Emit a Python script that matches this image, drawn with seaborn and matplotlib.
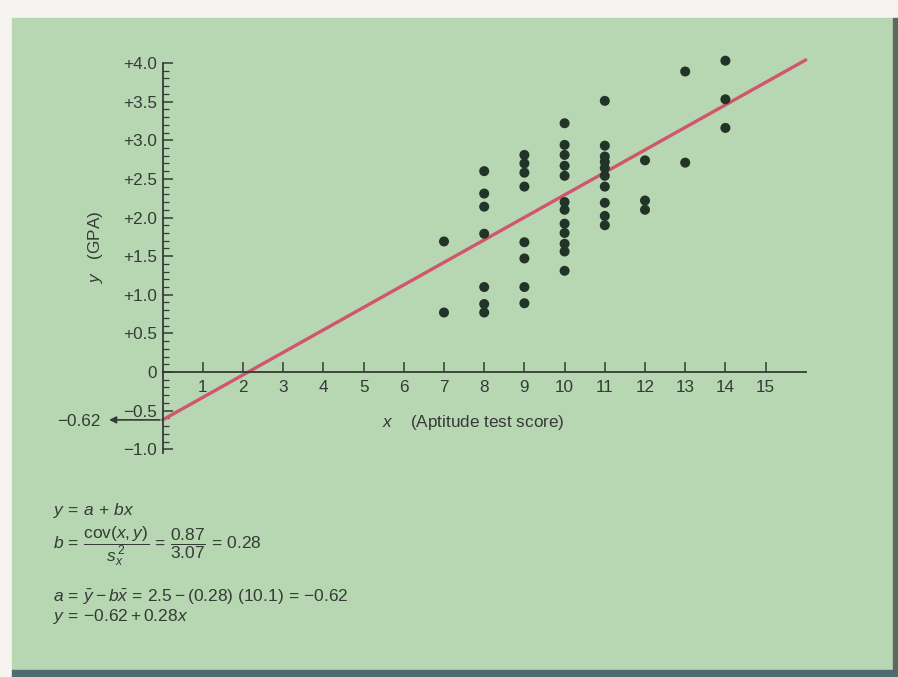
import numpy as np
import matplotlib
matplotlib.use("Agg")
import matplotlib.pyplot as plt
from matplotlib.patches import Rectangle
import seaborn as sns

# ---------------- data ----------------
scores = [7, 7,
          8, 8, 8, 8, 8, 8, 8,
          9, 9, 9, 9, 9, 9, 9, 9,
          10, 10, 10, 10, 10, 10, 10, 10, 10, 10, 10, 10,
          11, 11, 11, 11, 11, 11, 11, 11, 11, 11,
          12, 12, 12,
          13, 13,
          14, 14, 14]
gpa = [1.69, 0.77,
       2.60, 2.31, 2.14, 1.79, 1.10, 0.88, 0.77,
       2.81, 2.70, 2.58, 2.40, 1.68, 1.47, 1.10, 0.89,
       3.22, 2.94, 2.81, 2.67, 2.54, 2.20, 2.10, 1.92, 1.80, 1.66, 1.56, 1.31,
       3.51, 2.93, 2.79, 2.72, 2.64, 2.54, 2.40, 2.19, 2.02, 1.90,
       2.74, 2.22, 2.10,
       3.89, 2.71,
       4.03, 3.53, 3.16]
line_x = [0.0, 16.0]
line_y = [-0.62, 4.04]
y_ticks = [-1.0, -0.5, 0.0, 0.5, 1.0, 1.5, 2.0, 2.5, 3.0, 3.5, 4.0]
y_tick_labels = ["\u22121.0", "\u22120.5", "0", "+0.5", "+1.0", "+1.5", "+2.0",
                 "+2.5", "+3.0", "+3.5", "+4.0"]
x_ticks = list(range(1, 16))
x_tick_labels = [str(v) for v in x_ticks]
intercept_label = "\u22120.62"

# ---------------- style ----------------
sns.set_style("ticks")
plt.rcParams['font.family'] = ['Liberation Sans', 'DejaVu Sans']
plt.rcParams['mathtext.fontset'] = 'custom'
plt.rcParams['mathtext.rm'] = 'Liberation Sans'
plt.rcParams['mathtext.it'] = 'Liberation Sans:italic'
plt.rcParams['mathtext.bf'] = 'Liberation Sans:bold'

W, H = 898, 677
TXT = '#353a36'
GREEN = '#b7d6b2'

fig = plt.figure(figsize=(W / 100, H / 100), dpi=100)
fig.patch.set_facecolor('#f7f3f0')

def fx(px):
    return px / W

def fy(py):
    return 1 - py / H

fig.patches.append(Rectangle((fx(12), fy(670)), fx(893) - fx(12), fy(18) - fy(670),
                             transform=fig.transFigure, color=GREEN, zorder=-2))
fig.patches.append(Rectangle((fx(12), 0), 1 - fx(12), fy(670),
                             transform=fig.transFigure, color='#4d6b70', zorder=-2))
fig.patches.append(Rectangle((fx(893), fy(670)), 1 - fx(893), fy(18) - fy(670),
                             transform=fig.transFigure, color='#5c6862', zorder=-2))

# axes spanning the figure; data mapping: x0 at px 162.6 (40.2 px/unit), y0 at px 372 (77.25 px/unit)
ax = fig.add_axes([0, 0, 1, 1])
ax.set_zorder(2)
ax.set_facecolor('none')
ax.patch.set_alpha(0)
x0p, xs = 162.6, 40.2
y0p, ys = 372.0, 77.25

sns.lineplot(x=line_x, y=line_y, ax=ax, color='#d0566e', linewidth=2.4, zorder=2)
sns.scatterplot(x=scores, y=gpa, ax=ax, s=52, color='#223328', edgecolor='none',
                linewidth=0, zorder=3)
ax.set_xlabel('')
ax.set_ylabel('')
ax.set_xlim(-x0p / xs, (W - x0p) / xs)
ax.set_ylim((y0p - H) / ys, y0p / ys)

for s in ['top', 'right']:
    ax.spines[s].set_visible(False)
ax.spines['left'].set_position(('data', 0))
ax.spines['bottom'].set_position(('data', 0))
ax.spines['left'].set_bounds(-1.05, 4.0)
ax.spines['bottom'].set_bounds(0, 16.0)
for s in ['left', 'bottom']:
    ax.spines[s].set_color(TXT)
    ax.spines[s].set_linewidth(1.3)

ax.set_yticks(y_ticks)
ax.set_yticklabels(y_tick_labels)
ax.set_yticks(np.arange(-1.0, 4.01, 0.1), minor=True)
ax.set_xticks(x_ticks)
ax.set_xticklabels(x_tick_labels)
ax.tick_params(axis='y', which='major', direction='in', length=7, width=1.1,
               pad=4, labelsize=12.3, colors=TXT)
ax.tick_params(axis='y', which='minor', direction='in', length=4, width=0.9, colors=TXT)
ax.tick_params(axis='x', which='major', direction='in', length=7, width=1.1,
               pad=6, labelsize=12.3, colors=TXT)

# intercept arrow
ax.annotate('', xy=(-1.4, -0.62), xytext=(0, -0.62),
            arrowprops=dict(arrowstyle='-|>', color=TXT, lw=1.2, mutation_scale=10))
ax.text(-1.55, -0.64, intercept_label, ha='right', va='center', fontsize=12.3, color=TXT)

# axis labels
ax.text(-1.66, 1.62, r'$y$   (GPA)', rotation=90, ha='center', va='center',
        fontsize=12.3, color=TXT)
ax.text(5.45, -0.65, r'$x$    (Aptitude test score)', ha='left', va='center',
        fontsize=12.3, color=TXT)

# formulas
fs = 12.5
fig.text(fx(53), fy(511), r'$y\,=\,a\,+\,bx$', ha='left', va='center', fontsize=fs, color=TXT)
fig.text(fx(53), fy(546),
         r'$b\,=\,\dfrac{\mathrm{cov}(x,y)}{s^{\,2}_{x}}\,=\,\dfrac{0.87}{3.07}\,=\,0.28$',
         ha='left', va='center', fontsize=fs, color=TXT)
fig.text(fx(53), fy(597), r'$a\,=\,\bar{y}-b\bar{x}\,=\,2.5-(0.28)\ (10.1)\,=\,{-}0.62$',
         ha='left', va='center', fontsize=fs, color=TXT)
fig.text(fx(53), fy(617), r'$y\,=\,{-}0.62+0.28x$', ha='left', va='center',
         fontsize=fs, color=TXT)

fig.savefig('out.png', dpi=100, facecolor=fig.get_facecolor())
